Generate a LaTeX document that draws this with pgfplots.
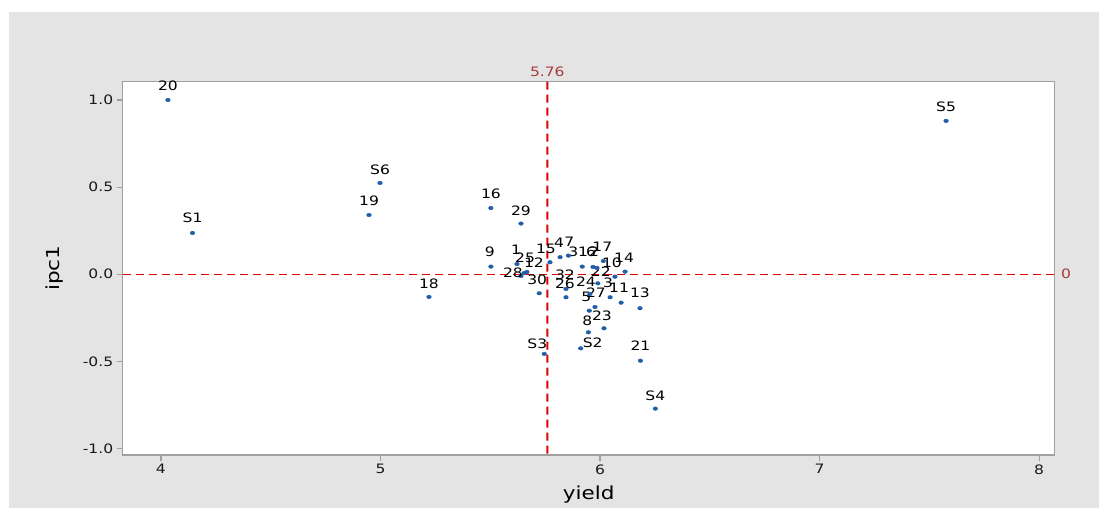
\documentclass[border=0pt]{standalone}
\usepackage{fontspec}
\setmainfont[FakeStretch=1.2]{DejaVu Sans}
\usepackage{pgfplots}
\usepackage{pgfplotstable}
\pgfplotsset{compat=1.18}

\definecolor{bggray}{HTML}{E4E4E4}
\definecolor{framegray}{HTML}{A0A0A0}
\definecolor{dotblue}{HTML}{1F5EA8}
\definecolor{refred}{HTML}{E00000}
\definecolor{reftext}{HTML}{A83A3A}

% x = yield, y = ipc1, lx/ly = label offset from the point (px)
\pgfplotstableread{
x     y      lab lx ly
4.032  1.000 20  0  14
7.576  0.880 S5  0  14
4.998  0.524 S6  0  13
4.144  0.237 S1  0  15
4.948  0.340 19  0  14
5.503  0.380 16  0  14
5.640  0.291 29  0  13
5.221 -0.130 18  0  13
5.746 -0.457 S3 -7  10
5.912 -0.425 S2 12   6
6.184 -0.496 21  0  15
6.252 -0.771 S4  0  13
5.947 -0.333 8  -1  12
6.018 -0.310 23 -2  13
6.182 -0.195 13  0  15
6.096 -0.163 11 -2  15
6.046 -0.132 3  -2  14
5.977 -0.188 27  1  14
5.951 -0.209 5  -3  14
5.954 -0.113 24 -4  12
5.990 -0.052 22  3  12
6.068 -0.014 10 -3  14
6.114  0.015 14 -1  14
6.015  0.076 17 -1  14
5.919  0.044 31 -4  15
5.968  0.042 6  -2  15
5.986  0.036 2  -3  16
5.856  0.107 7   1  14
5.818  0.098 4  -1  14
5.772  0.069 15 -4  13
5.723 -0.109 30 -2  13
5.845 -0.084 32 -1  14
5.845 -0.132 26 -1  13
5.503  0.044 9  -1  15
5.622  0.059 1  -1  14
5.654  0.007 25  1  15
5.640 -0.010 28 -8   3
5.667  0.013 12  7   9
}\pts

\begin{document}
\begin{tikzpicture}[x=1bp,y=1bp]
\fill[white] (0,0) rectangle (1099,508);
\fill[bggray] (9,0) rectangle (1099,496);
\begin{axis}[
    at={(122.7bp,53bp)}, anchor=south west,
    scale only axis,
    width=931.8bp, height=373.3bp,
    xmin=3.826, xmax=8.07,
    ymin=-1.037, ymax=1.105,
    xtick={4,5,6,7,8},
    ytick={-1,-0.5,0,0.5,1},
    yticklabel style={/pgf/number format/.cd, fixed, fixed zerofill, precision=1},
    /pgf/number format/assume math mode=true,
    ticklabel style={font=\fontsize{13}{14}\selectfont, text=black!90},
    xtick pos=bottom, ytick pos=left,
    tick align=outside,
    major tick length=6bp,
    tick style={framegray, line width=1.2pt},
    axis line style={framegray, line width=1.5pt},
    axis background/.style={fill=white},
    xlabel={yield}, ylabel={ipc1},
    label style={font=\fontsize{18}{20}\selectfont},
    xlabel style={at={(axis description cs:0.5,-0.107)}, anchor=center},
    ylabel style={at={(axis description cs:-0.073,0.5)}, anchor=center},
    clip=false,
]
\addplot[draw=refred, no marks, line width=1.5bp, dash pattern=on 8bp off 5bp]
    coordinates {(3.826,0) (8.07,0)};
\addplot[draw=refred, no marks, line width=2bp, dash pattern=on 8bp off 5bp]
    coordinates {(5.7600,1.105) (5.7601,-1.037)};
\addplot[only marks, mark=*, mark size=1.8bp, dotblue,
    mark options={xscale=1.3},
    point meta=explicit symbolic,
    visualization depends on={\thisrow{lx} \as \lx},
    visualization depends on={\thisrow{ly} \as \ly},
    nodes near coords,
    nodes near coords style={anchor=center, inner sep=0pt, text=black,
        font=\fontsize{13}{14}\selectfont, xshift=\lx bp, yshift=\ly bp},
] table[x=x, y=y, meta=lab] {\pts};
\node[text=reftext, font=\fontsize{13}{14}\selectfont, anchor=center]
    at ([yshift=9.7bp]axis cs:5.76,1.105) {5.76};
\node[text=reftext, font=\fontsize{13}{14}\selectfont, anchor=center]
    at ([xshift=11.5bp]axis cs:8.07,0) {0};
\end{axis}
\end{tikzpicture}
\end{document}
